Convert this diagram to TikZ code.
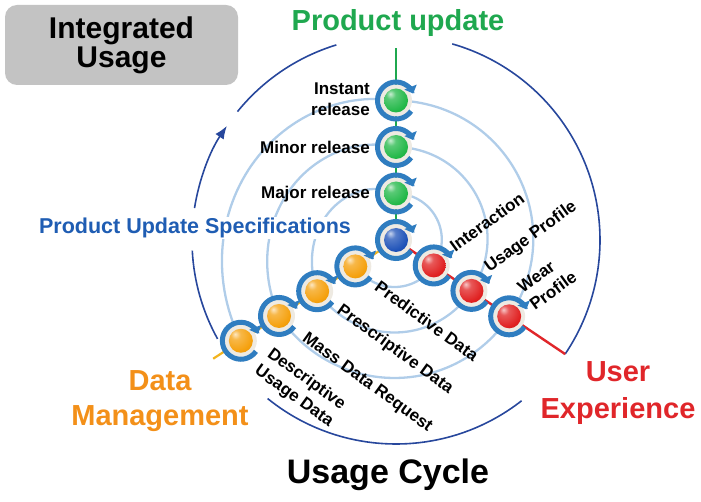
\documentclass[tikz,border=0pt]{standalone}
\usepackage{fontspec}
\setmainfont{Liberation Sans}
\usetikzlibrary{arrows.meta,calc}
\definecolor{cgreen}{HTML}{1FA84F}
\definecolor{cblue}{HTML}{1F5DB3}
\definecolor{corange}{HTML}{F39019}
\definecolor{cred}{HTML}{E0262A}
\definecolor{cdark}{HTML}{27479C}
\definecolor{clight}{HTML}{B0CDE9}
\definecolor{cring}{HTML}{2F7DC0}
\definecolor{chalo}{HTML}{EEEAE2}
\definecolor{cbox}{HTML}{C3C3C3}
\definecolor{cyel}{HTML}{F2B41E}
\definecolor{bgreen}{HTML}{22B848}
\definecolor{bblue}{HTML}{1E52B8}
\definecolor{bred}{HTML}{E02020}
\definecolor{borange}{HTML}{F5A00C}
\colorlet{ballc}{bgreen}
\pgfdeclareradialshading[ballc]{myball}{\pgfpoint{-12bp}{14bp}}{%
  color(0bp)=(ballc!25!white); color(10bp)=(ballc!75!white); color(32bp)=(ballc);
  color(62bp)=(ballc!75!black); color(100bp)=(ballc!75!black)}
\newcommand\spiralseg[4]{%
  \draw[spiralst] plot[variable=\t,domain=0:1,samples=60] ({#1+(#3-#1)*\t}:{#2+(#4-#2)*\t});}
\newcommand\myring[1]{%
  \fill[chalo] (#1) circle (16);
  \draw[ringst] ($(#1)+(-35:18.5)$) arc[start angle=-35,end angle=-338,radius=18.5];}
\begin{document}
\begin{tikzpicture}[x=1pt,y=1pt,
  spiralst/.style={clight,line width=2.3pt},
  darkarc/.style={cdark,line width=1.6pt},
  ringst/.style={cring,line width=5pt,-{Triangle[length=7pt,width=13pt]}},
  ballst/.style={circle,inner sep=0pt,minimum size=24pt,/utils/exec={\colorlet{ballc}{#1}},shade,shading=myball},
  lbl/.style={font=\fontsize{17}{21}\selectfont\bfseries,inner sep=1pt},
  title/.style={font=\fontsize{29}{35}\selectfont\bfseries,align=center}]
\useasboundingbox (0,0) rectangle (701,501);
\coordinate (C) at (396,261);
% spiral
\begin{scope}[shift={(C)}]
\foreach \k in {1,2,3}{
  \pgfmathsetmacro\gr{46.5*\k}
  \pgfmathsetmacro\rr{45.5*\k}
  \pgfmathsetmacro\orr{3+45.5*\k}
  \pgfmathsetmacro\onx{3+45.5*(\k+1)}
  \spiralseg{90}{\gr}{-34}{\rr}
  \spiralseg{-34}{\rr}{-147}{\orr}
  \spiralseg{213}{\onx}{90}{\gr}
}
\end{scope}
% outer dark circle
\draw[darkarc] ($(C)+(74:204)$) arc[start angle=74,end angle=-34,radius=204];
\draw[darkarc,-{Latex[length=13pt,width=10pt]}] ($(C)+(171:204)$) arc[start angle=171,end angle=146,radius=204];
\draw[darkarc] ($(C)+(141:204)$) arc[start angle=141,end angle=107,radius=204];
\draw[darkarc] ($(C)+(183:204)$) arc[start angle=183,end angle=209,radius=204];
\draw[darkarc] ($(C)+(-129:204)$) arc[start angle=-129,end angle=-52,radius=204];
% axes
\coordinate (gtop) at (396,453);
\coordinate (rend) at ($(C)+(-34:204)$);
\coordinate (oend) at ($(C)+(213:218)$);
\draw[cgreen,line width=2.4pt] (C) -- (gtop);
\draw[cred,line width=2.4pt] (C) -- (rend);
\draw[cyel,line width=2.2pt] (C) -- (oend);
% ball positions
\foreach \k in {1,2,3}{
  \coordinate (pg\k) at ($(C)+(90:46.5*\k)$);
  \coordinate (pr\k) at ($(C)+(-34:45.5*\k)$);
}
\foreach \k in {1,2,3,4}{
  \coordinate (po\k) at ($(C)+(213:3+45.5*\k)$);
}
\foreach \p in {pg1,pg2,pg3,pr1,pr2,pr3,po1,po2,po3,po4,C}{\myring{\p}}
\node[ballst=bgreen] (g1) at (pg1) {};
\node[ballst=bgreen] (g2) at (pg2) {};
\node[ballst=bgreen] (g3) at (pg3) {};
\node[ballst=bblue] (cb) at (C) {};
\node[ballst=bred] (r1) at (pr1) {};
\node[ballst=bred] (r2) at (pr2) {};
\node[ballst=bred] (r3) at (pr3) {};
\node[ballst=borange] (o1) at (po1) {};
\node[ballst=borange] (o2) at (po2) {};
\node[ballst=borange] (o3) at (po3) {};
\node[ballst=borange] (o4) at (po4) {};
% box
\node[draw=none,fill=cbox,rounded corners=12pt,minimum width=233pt,minimum height=80pt,
  font=\fontsize{30}{29}\selectfont\bfseries,align=center] (box) at (121.5,456) {Integrated\\Usage};
% titles
\node[title,text=cgreen] (tpu) at (398,478) {Product update};
\node[font=\fontsize{21.5}{26}\selectfont\bfseries,text=cblue,fill=white,inner sep=1pt] (tpus) at (195,273) {Product Update Specifications};
\node[title,text=corange] (tdm) at (160,100) {Data\\Management};
\node[title,text=cred,font=\fontsize{29}{37}\selectfont\bfseries] (tue) at (618,108) {User\\Experience};
\node[font=\fontsize{34}{40}\selectfont\bfseries] (tuc) at (388,26) {Usage Cycle};
% green labels
\node[lbl,anchor=east,align=right] (lir) at (371,402) {Instant\\release};
\node[lbl,anchor=east] (lmi) at (371,354) {Minor release};
\node[lbl,anchor=east] (lma) at (371,307) {Major release};
% red labels
\node[lbl,rotate=36] (lin) at (487,279) {Interaction};
\node[lbl,rotate=36] (lup) at (531,264) {Usage Profile};
\node[lbl,rotate=36,align=left] (lwp) at (547,219) {Wear\\Profile};
% orange labels
\node[lbl,rotate=-36] (lpd) at (427,180) {Predictive Data};
\node[lbl,rotate=-36] (lps) at (395,151) {Prescriptive Data};
\node[lbl,rotate=-36] (lmd) at (367,118) {Mass Data Request};
\node[lbl,rotate=-36,align=center] (ldu) at (300,113) {Descriptive\\Usage Data};
\end{tikzpicture}
\end{document}
